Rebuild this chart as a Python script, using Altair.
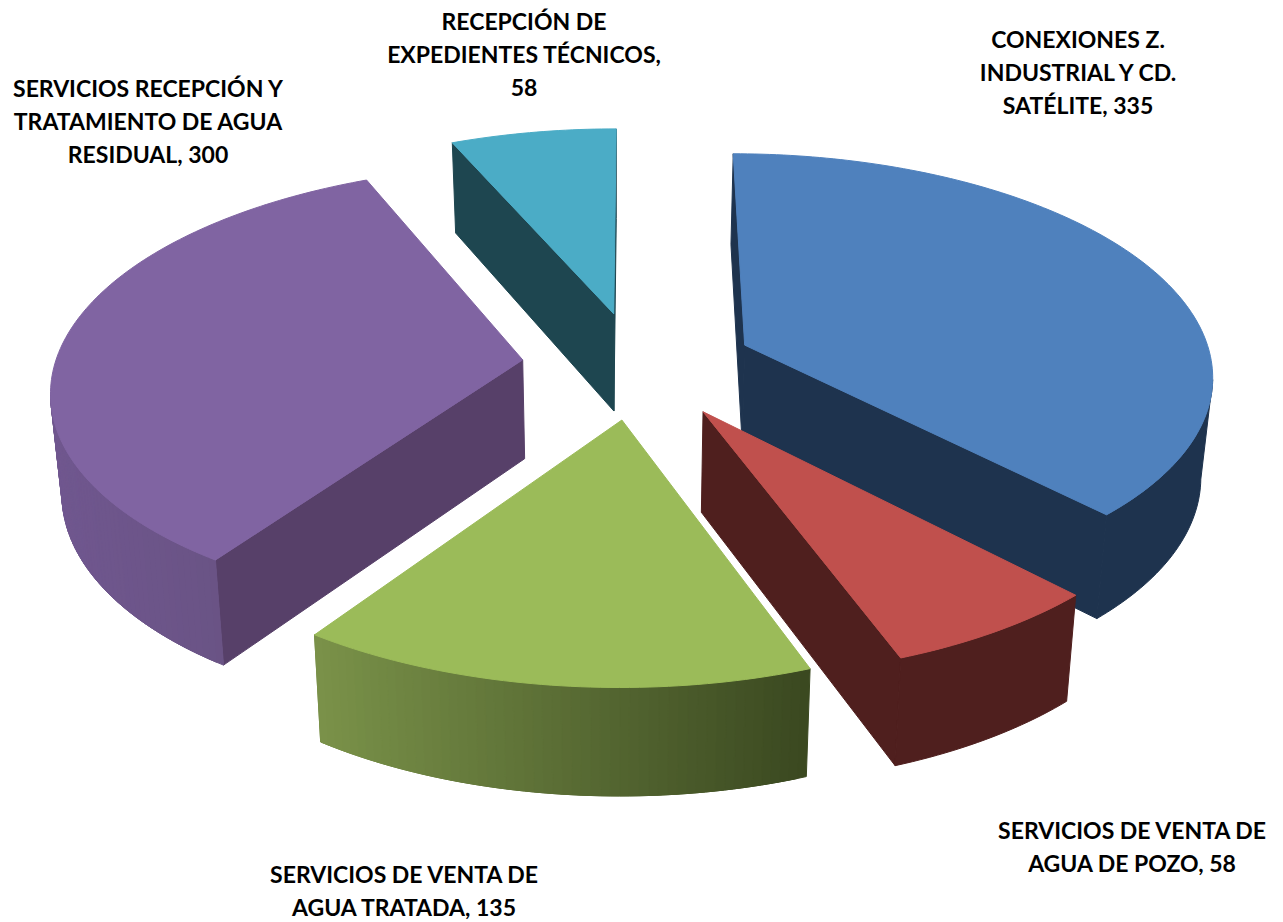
import math
import altair as alt

categories = ["CONEXIONES Z. INDUSTRIAL Y CD. SATÉLITE", "SERVICIOS DE VENTA DE AGUA DE POZO",
              "SERVICIOS DE VENTA DE AGUA TRATADA", "SERVICIOS RECEPCIÓN Y TRATAMIENTO DE AGUA RESIDUAL",
              "RECEPCIÓN DE EXPEDIENTES TÉCNICOS"]
values = [335, 58, 135, 300, 58]
top_colors = ["#4F81BD", "#C0504D", "#9BBB59", "#8064A2", "#4BACC6"]
cut_colors = ["#1E334E", "#4F1F1E", "#3F4F23", "#574069", "#1E4650"]
wall_left = ["#1E334E", "#4F1F1E", "#7A9249", "#70578F", "#1E4650"]
wall_right = ["#1E334E", "#4F1F1E", "#3A4820", "#64507C", "#1E4650"]
label_texts = ["CONEXIONES Z.\nINDUSTRIAL Y CD.\nSATÉLITE, 335", "SERVICIOS DE VENTA DE\nAGUA DE POZO, 58",
               "SERVICIOS DE VENTA DE\nAGUA TRATADA, 135", "SERVICIOS RECEPCIÓN Y\nTRATAMIENTO DE AGUA\nRESIDUAL, 300",
               "RECEPCIÓN DE\nEXPEDIENTES TÉCNICOS,\n58"]
label_x = [1078, 1132, 404, 148, 524]
label_y = [41, 832, 876, 90, 23]
slice_nudge = [3, 4, 0, 0, 0]

# view of the tilted pie
CX, CY, AX, BY, PERSP = 636.5, 365, 468, 219.6, 0.1235
EXPLODE, START = 0.245, 0.0
VX, SHRINK = 620, 0.98


def top_point(u, v, dx=0):
    w = 1 + PERSP * v
    return (CX + dx + AX * u / w - 8, CY - BY * v / w - 8)


def bottom_point(u, v, dx=0):
    x, y = top_point(u, v, dx)
    return (VX - 8 + (x - VX + 8) * SHRINK, y + 99 - 7.6 * v)


def mix(a, b, t):
    t = max(0, min(1, t))
    ca = [int(a[i:i + 2], 16) for i in (1, 3, 5)]
    cb = [int(b[i:i + 2], 16) for i in (1, 3, 5)]
    return "#" + "".join(f"{round(p + (q - p) * t):02x}" for p, q in zip(ca, cb))


def feature(points, color):
    ring = [list(p) for p in points]
    ring.append(ring[0])
    return {"type": "Feature", "geometry": {"type": "Polygon", "coordinates": [ring]},
            "properties": {"fill": color}}


total = sum(values)
angle = START
solids = []
for i, val in enumerate(values):
    sweep = 360 * val / total
    mid = math.radians(angle + sweep / 2)
    ou, ov = EXPLODE * math.sin(mid), EXPLODE * math.cos(mid)
    steps = max(8, int(sweep))
    ground = [(ou + math.sin(math.radians(angle + sweep * s / steps)),
               ov + math.cos(math.radians(angle + sweep * s / steps))) for s in range(steps + 1)]
    solids.append({"i": i, "apex": (ou, ov), "arc": ground})
    angle += sweep

features = []
for idx in [4, 0, 3, 1, 2]:
    s = solids[idx]
    i, apex, arc = s["i"], s["apex"], s["arc"]
    d = slice_nudge[i]
    xs = [top_point(*g)[0] for g in arc]
    x0, x1 = min(xs), max(xs)
    for a, b in ((apex, arc[0]), (arc[-1], apex)):
        if top_point(*b)[0] < top_point(*a)[0]:
            features.append(feature([top_point(*a, d), top_point(*b, d), bottom_point(*b, d), bottom_point(*a, d)],
                                    cut_colors[i]))
    visible = [g for g, h in zip(arc, arc[1:]) if top_point(*h)[0] < top_point(*g)[0]]
    if visible:
        visible.append(arc[arc.index(visible[-1]) + 1])
    if wall_left[i] == wall_right[i]:
        if len(visible) > 1:
            features.append(feature([top_point(*g, d) for g in visible] +
                                    [bottom_point(*g, d) for g in reversed(visible)], wall_left[i]))
    else:
        for k in range(len(visible) - 1):
            # each band runs under the next one so no seam shows
            band = visible[k:k + 3]
            t = ((top_point(*visible[k])[0] + top_point(*visible[k + 1])[0]) / 2 - x0) / (x1 - x0)
            features.append(feature([top_point(*g, d) for g in band] + [bottom_point(*g, d) for g in reversed(band)],
                                    mix(wall_left[i], wall_right[i], t)))
    features.append(feature([top_point(*apex, d)] + [top_point(*g, d) for g in arc], top_colors[i]))

proj = dict(type="identity", scale=1, translate=[0, 0])
pie = alt.Chart(alt.Data(values=features)).mark_geoshape(strokeWidth=1).encode(
    fill=alt.Fill("properties.fill:N", scale=None),
    stroke=alt.Stroke("properties.fill:N", scale=None),
).project(**proj)

label_rows = [{"category": c, "value": v, "text": t, "lon": x - 8, "lat": y - 8}
              for c, v, t, x, y in zip(categories, values, label_texts, label_x, label_y)]
labels = alt.Chart(alt.Data(values=label_rows)).mark_text(
    font="Lato", fontWeight="bold", fontSize=23, color="#000000", lineBreak="\n", lineHeight=33,
    align="center", baseline="middle",
).encode(longitude="lon:Q", latitude="lat:Q", text="text:N").project(**proj)

chart = alt.layer(pie, labels).properties(width=1267, height=914, padding=0, background="#ffffff",
                                          autosize=alt.AutoSizeParams(type="none")).configure_view(stroke=None)
chart.save("out.html", embed_options={"renderer": "svg", "actions": False})
